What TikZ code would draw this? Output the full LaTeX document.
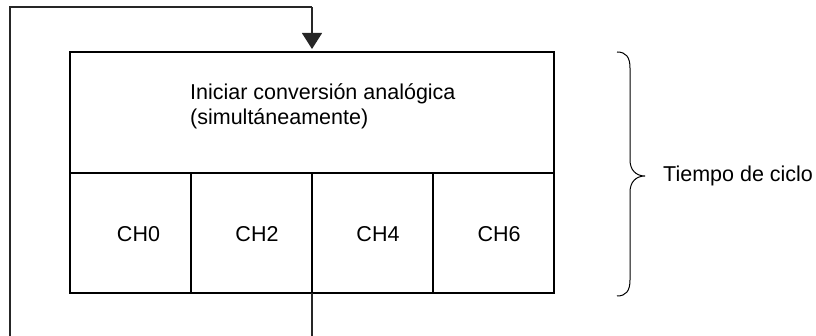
\documentclass[tikz,border=0pt]{standalone}
\usepackage{fontspec}
\setmainfont{Liberation Sans}
\usetikzlibrary{arrows.meta}
\begin{document}
\begin{tikzpicture}[x=1pt,y=-1pt,
  boxline/.style={draw=black,line width=2pt,inner sep=0pt,outer sep=0pt},
  loopline/.style={draw=black!85,line width=1.2pt},
  lbl/.style={font=\fontsize{21.5}{25}\selectfont,inner sep=0pt}]
\useasboundingbox (0,0) rectangle (816,336);
\node[boxline,minimum width=484pt,minimum height=121pt] (top) at (312,112.5) {};
\node[boxline,minimum width=121pt,minimum height=120pt] (c0) at (130.5,233) {};
\node[boxline,minimum width=121pt,minimum height=120pt] (c1) at (251.5,233) {};
\node[boxline,minimum width=121pt,minimum height=120pt] (c2) at (372.5,233) {};
\node[boxline,minimum width=121pt,minimum height=120pt] (c3) at (493.5,233) {};
\node[lbl,anchor=base west,align=left] (title) at (190,125) {Iniciar conversión analógica\\(simultáneamente)};
\node[lbl] (t0) at (138.5,234.5) {CH0};
\node[lbl] (t1) at (257,234.5) {CH2};
\node[lbl] (t2) at (378,234.5) {CH4};
\node[lbl] (t3) at (499,234.5) {CH6};
\node[lbl,anchor=west] (cyc) at (663,176) {Tiempo de ciclo};
\coordinate (b1) at (312,350);
\coordinate (b2) at (10,350);
\coordinate (u1) at (10,7);
\coordinate (u2) at (312,7);
\draw[loopline] (c1.south east) -- (b1) -- (b2) -- (u1) -- (u2);
\draw[loopline,-{Triangle[length=16pt,width=20pt]},shorten >=3pt] (u2) -- (top.north);
\draw[line width=1pt] (617,52) .. controls (626,52) and (630,57) .. (630,68) -- (630,160)
  .. controls (630,170) and (636,176) .. (645,176)
  .. controls (636,176) and (630,182) .. (630,192) -- (630,280)
  .. controls (630,291) and (626,296) .. (617,296);
\end{tikzpicture}
\end{document}
